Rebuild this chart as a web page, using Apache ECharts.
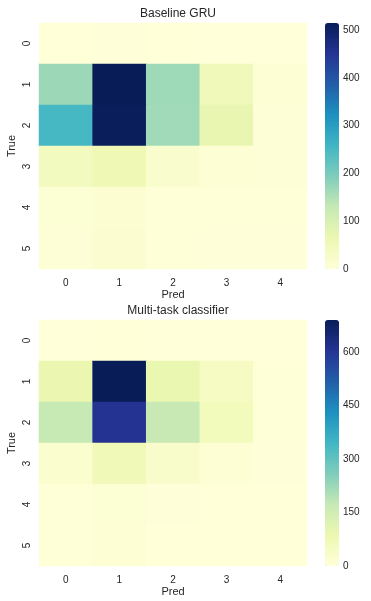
<!DOCTYPE html>
<html>
<head>
<meta charset="utf-8">
<script src="https://cdn.jsdelivr.net/npm/echarts@6/dist/echarts.min.js"></script>
<style>
  html, body { margin: 0; padding: 0; background: #fff; }
  #chart { width: 371px; height: 601px; }
</style>
</head>
<body>
<div id="chart"></div>
<script>
  // confusion matrices, rows = True class, cols = Pred class
  const predLabels = ['0', '1', '2', '3', '4']
  const trueLabels = ['0', '1', '2', '3', '4', '5']

  const baselineGru = [
    [1, 2, 1, 0, 0],
    [167, 515, 165, 52, 8],
    [252, 512, 163, 72, 6],
    [42, 58, 20, 8, 5],
    [10, 12, 4, 3, 4],
    [6, 15, 3, 2, 2]
  ]
  const multiTask = [
    [1, 2, 1, 0, 0],
    [90, 690, 92, 48, 5],
    [172, 608, 170, 62, 4],
    [25, 72, 33, 10, 3],
    [6, 12, 3, 2, 2],
    [5, 10, 2, 2, 2]
  ]
  const baselineTicks = [0, 100, 200, 300, 400, 500]
  const multiTicks = [0, 150, 300, 450, 600]
  const baselineMax = 515
  const multiMax = 690

  const ylgnbu = ['#ffffd9', '#edf8b1', '#c7e9b4', '#7fcdbb', '#41b6c4',
    '#1d91c0', '#225ea8', '#253494', '#081d58']
  const textColor = '#262626'
  const fontFamily = 'Liberation Sans, Arial, sans-serif'

  function toCells(matrix) {
    const out = []
    matrix.forEach((row, y) => {
      row.forEach((v, x) => out.push([x, y, v]))
    })
    return out
  }

  // plot boxes
  const panels = [
    { title: 'Baseline GRU', top: 23, titleTop: 3, data: baselineGru, max: baselineMax, ticks: baselineTicks },
    { title: 'Multi-task classifier', top: 320, titleTop: 300, data: multiTask, max: multiMax, ticks: multiTicks }
  ]
  const plotLeft = 39
  const plotWidth = 268
  const plotHeight = 246
  const barLeft = 325
  const barWidth = 14

  const grid = []
  const xAxis = []
  const yAxis = []
  const series = []
  const visualMap = []
  const title = []

  panels.forEach((p, i) => {
    title.push({
      text: p.title,
      left: plotLeft + plotWidth / 2,
      top: p.titleTop,
      textAlign: 'center',
      textStyle: { fontSize: 12, fontWeight: 'normal', color: textColor, fontFamily }
    })
    // heatmap grid
    grid.push({ left: plotLeft, top: p.top, width: plotWidth, height: plotHeight, outerBoundsMode: 'none' })
    xAxis.push({
      type: 'category',
      gridIndex: 2 * i,
      data: predLabels,
      name: 'Pred',
      nameLocation: 'middle',
      nameGap: 20,
      nameMoveOverlap: false,
      nameTextStyle: { fontSize: 11, color: textColor, fontFamily },
      axisLine: { show: false },
      axisTick: { show: false },
      axisLabel: { fontSize: 10, color: textColor, margin: 9, fontFamily },
      splitLine: { show: false }
    })
    yAxis.push({
      type: 'category',
      gridIndex: 2 * i,
      data: trueLabels,
      inverse: true,
      name: 'True',
      nameLocation: 'middle',
      nameGap: 22,
      nameMoveOverlap: false,
      nameRotate: 90,
      nameTextStyle: { fontSize: 11, color: textColor, fontFamily },
      axisLine: { show: false },
      axisTick: { show: false },
      axisLabel: { fontSize: 10, color: textColor, rotate: 90, margin: 7, fontFamily },
      splitLine: { show: false }
    })
    // colorbar label axis
    grid.push({ left: barLeft, top: p.top, width: barWidth, height: plotHeight, outerBoundsMode: 'none' })
    xAxis.push({ type: 'value', gridIndex: 2 * i + 1, show: false })
    yAxis.push({
      type: 'value',
      gridIndex: 2 * i + 1,
      position: 'right',
      min: 0,
      max: p.max,
      interval: p.ticks[1] - p.ticks[0],
      axisLine: { show: false },
      axisTick: { show: false },
      splitLine: { show: false },
      axisLabel: { fontSize: 10, color: textColor, margin: 4, showMaxLabel: false, fontFamily }
    })
    series.push({
      type: 'heatmap',
      xAxisIndex: 2 * i,
      yAxisIndex: 2 * i,
      data: toCells(p.data),
      silent: true,
      itemStyle: { borderWidth: 0 }
    })
    visualMap.push({
      type: 'continuous',
      seriesIndex: i,
      min: 0,
      max: p.max,
      calculable: false,
      left: barLeft,
      top: p.top,
      itemWidth: barWidth,
      itemHeight: plotHeight,
      padding: 0,
      text: null,
      showLabel: false,
      inRange: { color: ylgnbu }
    })
  })

  const chart = echarts.init(document.getElementById('chart'), null, { renderer: 'canvas' })
  chart.setOption({
    backgroundColor: '#fff',
    animation: false,
    title,
    grid,
    xAxis,
    yAxis,
    visualMap,
    series
  })
</script>
</body>
</html>
